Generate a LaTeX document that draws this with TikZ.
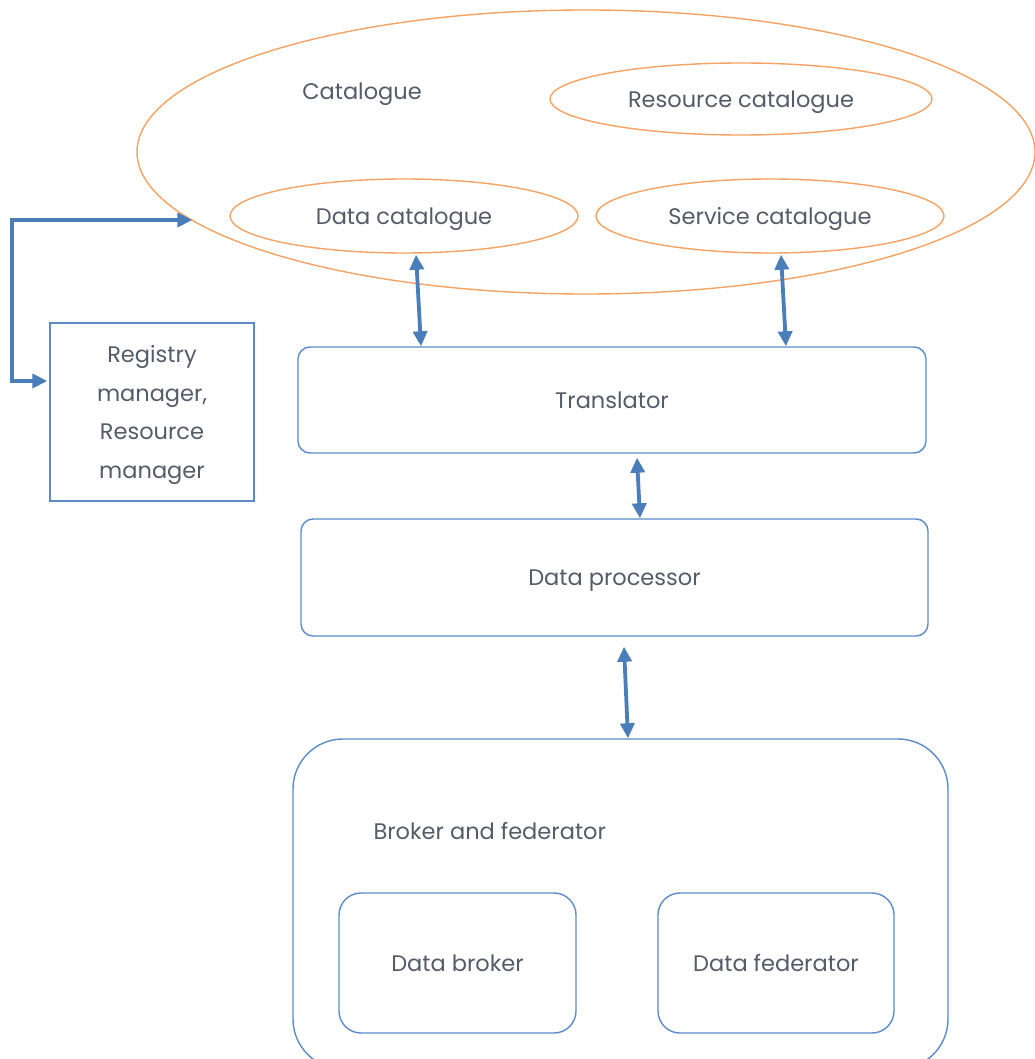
\documentclass[tikz,border=0pt]{standalone}
\usepackage{fontspec}
\setmainfont{Poppins}
\usetikzlibrary{arrows.meta,shapes.geometric,calc}
\definecolor{linkblue}{HTML}{4A7EBB}
\definecolor{boxblue}{HTML}{5B8BC9}
\definecolor{catorange}{HTML}{F5A262}
\definecolor{txtgray}{HTML}{545C68}
\begin{document}
\begin{tikzpicture}[x=1pt,y=-1pt,
  every node/.style={text=txtgray,text depth=0pt,font=\fontsize{22.5}{27}\selectfont},
  catell/.style={draw=catorange,line width=1.4pt,ellipse,inner sep=0pt},
  block/.style={draw=boxblue,line width=1.4pt,rounded corners=12pt,inner sep=0pt},
  inner/.style={draw=boxblue,line width=1.4pt,rounded corners=22pt,inner sep=0pt},
  link/.style={draw=linkblue,line width=3.8pt,{Triangle[length=15pt,width=14pt]}-{Triangle[length=15pt,width=14pt]}}]
\useasboundingbox (0,0) rectangle (1034,1059);

% catalogue ellipses
\node[catell,minimum width=898pt,minimum height=284pt] (cat) at (586,152) {};
\node at (362,91) {Catalogue};
\node[catell,minimum width=382pt,minimum height=72pt] (rc) at (741,99) {Resource catalogue};
\node[catell,minimum width=348pt,minimum height=74pt] (dc) at (404,216) {Data catalogue};
\node[catell,minimum width=348pt,minimum height=74pt] (sc) at (770,216) {Service catalogue};

% registry / resource manager
\node[draw=boxblue,line width=1.4pt,minimum width=204pt,minimum height=178pt,inner sep=0pt,
      align=center,font=\fontsize{22.5}{38.7}\selectfont] (rm) at (152,412)
      {Registry\\manager,\\Resource\\manager};

% processing chain
\node[block,minimum width=628pt,minimum height=106pt] (tr) at (612,400) {Translator};
\node[block,minimum width=627pt,minimum height=117pt] (dp) at (614.5,577.5) {Data processor};
\node[draw=boxblue,line width=1.4pt,rounded corners=50pt,minimum width=655pt,minimum height=330pt] (bf) at (620.5,904) {};
\node[anchor=west] at (370,831) {Broker and federator};
\node[inner,minimum width=237pt,minimum height=140pt] (db) at (457.5,963) {Data broker};
\node[inner,minimum width=236pt,minimum height=140pt] (df) at (776,963) {Data federator};

% connector end points
\coordinate (catin) at ($(cat.west)+(56,68)$);
\coordinate (rmin)  at ($(rm.west)+(-2,-31)$);
\coordinate (bend)  at (12,0);

% connectors
\draw[link] (catin) -- (catin -| bend) -- (rmin -| bend) -- (rmin);
\draw[link] ($(dc.south)+(12,1)$) -- ($(tr.north)+(-191,0)$);
\draw[link] ($(sc.south)+(11,1)$) -- ($(tr.north)+(174,0)$);
\draw[link] ($(tr.south)+(25,4)$) -- ($(dp.north)+(25.5,0)$);
\draw[link] ($(dp.south)+(9.5,10)$) -- ($(bf.north)+(7.5,0)$);
\end{tikzpicture}
\end{document}
